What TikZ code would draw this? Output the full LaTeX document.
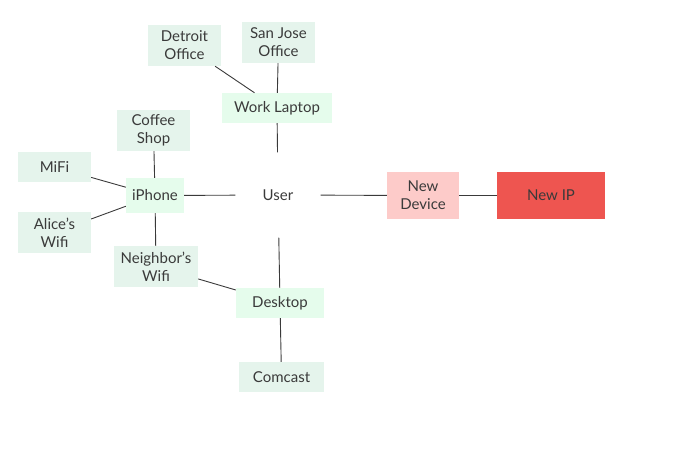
\documentclass[tikz,border=0pt]{standalone}
\usepackage{fontspec}
\setmainfont{Lato}
\usepackage{tikz}

\definecolor{leafgreen}{HTML}{E5F4EC}
\definecolor{hubgreen}{HTML}{E5FCEC}
\definecolor{newpink}{HTML}{FDCBC9}
\definecolor{newred}{HTML}{EE5550}
\definecolor{inkgray}{HTML}{3A3A3A}

\tikzset{
  box/.style = {inner sep=0pt, align=center, text=inkgray,
    font=\fontsize{15}{18}\selectfont},
  leaf/.style = {box, fill=leafgreen},
  hub/.style = {box, fill=hubgreen},
  link/.style = {draw=inkgray, line width=0.9pt}
}

\begin{document}
\begin{tikzpicture}[x=1pt, y=-1pt]
	\useasboundingbox (0,0) rectangle (677,466);
	% centre
	\node [box, minimum width=85, minimum height=85] (user) at (278,195) {User};
	% work laptop and its offices
	\node [hub, minimum width=110, minimum height=30] (laptop) at (277,108) {Work Laptop};
	\node [leaf, minimum width=73, minimum height=41] (detroit) at (184.5,45.5) {Detroit\\Office};
	\node [leaf, minimum width=73, minimum height=41] (sanjose) at (278.5,42.5) {San Jose\\Office};
	% iphone and its networks
	\node [hub, minimum width=58, minimum height=35] (iphone) at (155,195.5) {iPhone};
	\node [leaf, minimum width=73, minimum height=41] (coffee) at (153.5,130.5) {Coffee\\Shop};
	\node [leaf, minimum width=73, minimum height=30] (mifi) at (54.5,167) {MiFi};
	\node [leaf, minimum width=73, minimum height=41] (alice) at (54.5,232.5) {Alice's\\Wifi};
	\node [leaf, minimum width=84, minimum height=41] (neighbor) at (156,266.5) {Neighbor's\\Wifi};
	% desktop
	\node [hub, minimum width=88, minimum height=30] (desktop) at (280,303) {Desktop};
	\node [leaf, minimum width=85, minimum height=30] (comcast) at (281.5,377) {Comcast};
	% new device
	\node [box, fill=newpink, minimum width=72, minimum height=47] (device) at (423,195.5) {New\\Device};
	\node [box, fill=newred, minimum width=108, minimum height=47] (newip) at (551,195.5) {New IP};

	\draw [link] (user) -- (laptop);
	\draw [link] (laptop) -- (detroit);
	\draw [link] (laptop) -- (sanjose);
	\draw [link] (user) -- (iphone);
	\draw [link] (iphone) -- (coffee);
	\draw [link] (iphone) -- (mifi);
	\draw [link] (iphone) -- (alice);
	\draw [link] (iphone) -- (neighbor);
	\draw [link] (neighbor) -- (desktop);
	\draw [link] (user) -- (desktop);
	\draw [link] (desktop) -- (comcast);
	\draw [link] (user) -- (device);
	\draw [link] (device) -- (newip);
\end{tikzpicture}
\end{document}
